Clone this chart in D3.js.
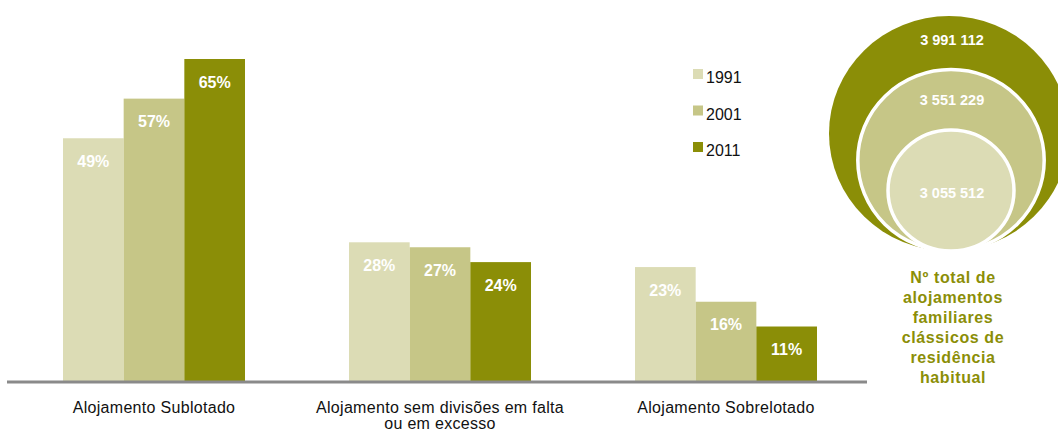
<!DOCTYPE html>
<html>
<head>
<meta charset="utf-8">
<script src="https://cdn.jsdelivr.net/npm/d3@7"></script>
<style>
  html, body { margin: 0; padding: 0; background: #fff; }
  svg { display: block; }
  text { font-family: "Liberation Sans", Arial, sans-serif; }
</style>
</head>
<body>
<svg id="chart" width="1058" height="431"></svg>
<script>
// ---- data ----
const categories = [
  ["Alojamento Sublotado"],
  ["Alojamento sem divisões em falta", "ou em excesso"],
  ["Alojamento Sobrelotado"]
];
const years = ["1991", "2001", "2011"];
const values1991 = [49, 28, 23];
const values2001 = [57, 27, 16];
const values2011 = [65, 24, 11];
const totals = [3055512, 3551229, 3991112]; // 1991, 2001, 2011
const totalLabels = ["3 055 512", "3 551 229", "3 991 112"];
const captionLines = ["Nº total de", "alojamentos", "familiares", "clássicos de", "residência", "habitual"];

const colors = ["#dcdcb5", "#c6c687", "#8b8e07"];
const series = [values1991, values2001, values2011];

const svg = d3.select("#chart");

// ---- scales ----
const catKeys = categories.map(c => c.join(" "));
const x0 = d3.scaleBand().domain(catKeys).range([11, 869])
  .paddingInner(0.3636).paddingOuter(0.1818);
const x1 = d3.scaleBand().domain(years).range([0, x0.bandwidth()]);
const y = d3.scaleLinear().domain([0, 65]).range([381, 59]);

// ---- bars ----
const groups = svg.selectAll("g.grp").data(catKeys).join("g")
  .attr("class", "grp")
  .attr("transform", d => `translate(${x0(d)},0)`);

groups.each(function(cat, ci) {
  const g = d3.select(this);
  years.forEach((yr, si) => {
    const v = series[si][ci];
    g.append("rect")
      .attr("x", x1(yr))
      .attr("y", y(v))
      .attr("width", x1.bandwidth())
      .attr("height", y(0) - y(v))
      .attr("fill", colors[si]);
    g.append("text")
      .attr("x", x1(yr) + x1.bandwidth() / 2)
      .attr("y", y(v) + 28.5)
      .attr("text-anchor", "middle")
      .attr("fill", "#fff")
      .attr("font-weight", "bold")
      .attr("font-size", "16px")
      .text(v + "%");
  });
});

// ---- axis line ----
svg.append("line")
  .attr("x1", 7).attr("x2", 867)
  .attr("y1", y(0) + 1).attr("y2", y(0) + 1)
  .attr("stroke", "#8a8a8a").attr("stroke-width", 3);

// ---- category labels ----
categories.forEach((lines, i) => {
  const t = svg.append("text")
    .attr("x", x0(catKeys[i]) + x0.bandwidth() / 2)
    .attr("y", 413)
    .attr("text-anchor", "middle")
    .attr("font-size", "16px")
    .attr("letter-spacing", "0.3px")
    .attr("fill", "#111");
  lines.forEach((ln, j) => {
    t.append("tspan")
      .attr("x", x0(catKeys[i]) + x0.bandwidth() / 2)
      .attr("dy", j === 0 ? 0 : 15.5)
      .text(ln);
  });
});

// ---- legend ----
years.forEach((yr, i) => {
  const ly = 69 + i * 36.5;
  svg.append("rect").attr("x", 693).attr("y", ly).attr("width", 10).attr("height", 10)
    .attr("fill", colors[i]);
  svg.append("text").attr("x", 706).attr("y", ly + 14)
    .attr("font-size", "16px").attr("fill", "#111").text(yr);
});

// ---- nested circles (totals) ----
const r = d3.scaleLinear().domain([totals[0], totals[2]]).range([63, 120]);
const cx = 950, bottom = 251;
const circ = svg.append("g");
// draw from largest to smallest
[2, 1, 0].forEach(i => {
  const rx = r(totals[i]);
  const ry = rx - 2.5;
  circ.append("ellipse")
    .attr("cx", cx + (i === 2 ? -1 : 1)).attr("cy", bottom - ry)
    .attr("rx", rx).attr("ry", ry)
    .attr("fill", colors[i])
    .attr("stroke", i === 2 ? "none" : "#fff")
    .attr("stroke-width", 3.5);
});
const labelY = [198, 105, 45];
[2, 1, 0].forEach(i => {
  circ.append("text")
    .attr("x", cx + 2).attr("y", labelY[i])
    .attr("text-anchor", "middle")
    .attr("font-size", "14.5px").attr("font-weight", "bold")
    .attr("fill", "#fff")
    .text(totalLabels[i]);
});

// ---- caption ----
const cap = svg.append("text")
  .attr("x", 953).attr("y", 283)
  .attr("text-anchor", "middle")
  .attr("font-size", "16px").attr("font-weight", "bold")
  .attr("letter-spacing", "0.6px")
  .attr("fill", "#8b8e07");
captionLines.forEach((ln, j) => {
  cap.append("tspan").attr("x", 953).attr("dy", j === 0 ? 0 : 20).text(ln);
});
</script>
</body>
</html>
